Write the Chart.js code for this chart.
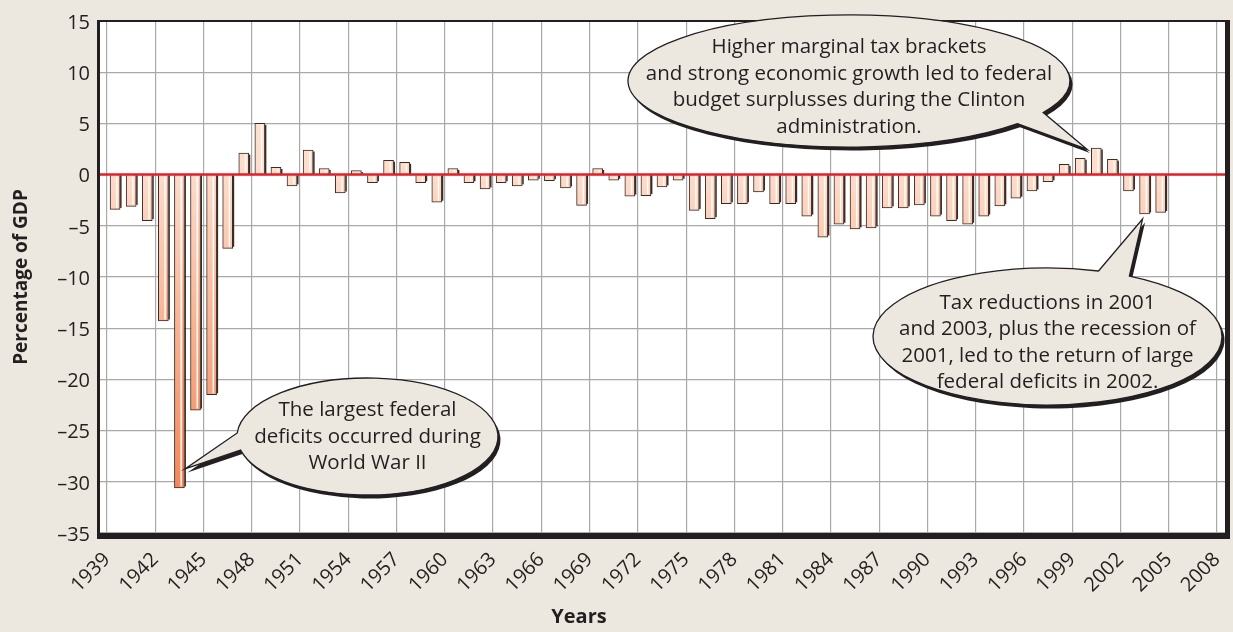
<!DOCTYPE html>
<html>
<head>
<meta charset="utf-8">
<title>Federal budget balance, % of GDP</title>
<script src="https://cdn.jsdelivr.net/npm/chart.js@4.4.1/dist/chart.umd.min.js"></script>
<style>
    html, body { margin: 0; padding: 0; background: #ece8df; }
    #wrap { width: 1233px; height: 632px; }
</style>
</head>
<body>
<div id="wrap"><canvas id="deficitChart" width="1233" height="632"></canvas></div>
<script>
// Fiscal years shown as bars
const years = [
    1939, 1940, 1941, 1942, 1943, 1944, 1945, 1946, 1947, 1948, 1949,
    1950, 1951, 1952, 1953, 1954, 1955, 1956, 1957, 1958, 1959,
    1960, 1961, 1962, 1963, 1964, 1965, 1966, 1967, 1968, 1969,
    1970, 1971, 1972, 1973, 1974, 1975, 1976, 1977, 1978, 1979,
    1980, 1981, 1982, 1983, 1984, 1985, 1986, 1987, 1988, 1989,
    1990, 1991, 1992, 1993, 1994, 1995, 1996, 1997, 1998, 1999,
    2000, 2001, 2002, 2003, 2004
];

// Surplus (+) / deficit (-) as a percentage of GDP
const balance = [
    -3.4, -3.1, -4.5, -14.3, -30.6, -23.0, -21.5, -7.2, 2.1, 5.0, 0.7,
    -1.1, 2.4, 0.6, -1.8, 0.4, -0.8, 1.4, 1.2, -0.8, -2.7,
    0.6, -0.8, -1.4, -0.8, -1.1, -0.55, -0.6, -1.3, -3.0, 0.6,
    -0.55, -2.1, -2.05, -1.2, -0.55, -3.5, -4.3, -2.85, -2.85, -1.7,
    -2.85, -2.85, -4.05, -6.1, -4.85, -5.3, -5.2, -3.25, -3.25, -2.95,
    -4.05, -4.5, -4.85, -4.05, -3.05, -2.3, -1.6, -0.7, 1.0, 1.6,
    2.6, 1.5, -1.6, -3.85, -3.7
];

// Axis tick labels
const tickYears = [1939, 1942, 1945, 1948, 1951, 1954, 1957, 1960, 1963, 1966, 1969, 1972,
                   1975, 1978, 1981, 1984, 1987, 1990, 1993, 1996, 1999, 2002, 2005, 2008];
const tickPercents = [-35, -30, -25, -20, -15, -10, -5, 0, 5, 10, 15];

// Speech bubbles: text plus where the tail points (a bar, by year)
const notes = [
    {
        lines: ["The largest federal", "deficits occurred during", "World War II"],
        year: 1943, cx: 367.5, cy: 436.5, rx: 130.5, ry: 58.5, textY: 437,
        a1: 166.5, a2: 183.5, dx: 5.6, dy: -19
    },
    {
        lines: ["Higher marginal tax brackets", "and strong economic growth led to federal",
                "budget surplusses during the Clinton", "administration."],
        year: 2000, cx: 849, cy: 81, rx: 221, ry: 66, textY: 87,
        a1: 28.5, a2: 40.3, dx: -9, dy: 1.5
    },
    {
        lines: ["Tax reductions in 2001", "and 2003, plus the recession of",
                "2001, led to the return of large", "federal deficits in 2002."],
        year: 2003, cx: 1047.5, cy: 336.5, rx: 174.5, ry: 68.5, textY: 342.5,
        a1: -73, a2: -62, dx: -2, dy: 5
    }
];

const INK = "#231f20";
const PAPER = "#ece8df";
const FONT = "'Open Sans', 'DejaVu Sans', sans-serif";

// Weißer Plotbereich hinter den Balken
const plotBackground = {
    id: "plotBackground",
    beforeDraw(chart) {
        const { ctx, chartArea: a } = chart;
        ctx.save();
        ctx.fillStyle = PAPER;
        ctx.fillRect(0, 0, chart.width, chart.height);
        ctx.fillStyle = "#ffffff";
        ctx.fillRect(a.left, a.top, a.right - a.left, a.bottom - a.top);
        ctx.restore();
    }
};

function drawBubble(ctx, n, tip) {
    const a1 = n.a1 * Math.PI / 180;
    const a2 = n.a2 * Math.PI / 180;
    const path = new Path2D();
    path.ellipse(n.cx, n.cy, n.rx, n.ry, 0, a2, a1 + 2 * Math.PI);
    path.lineTo(tip.x, tip.y);
    path.closePath();

    // shadow
    ctx.save();
    ctx.translate(2.5, 3.5);
    ctx.fillStyle = INK;
    ctx.fill(path);
    ctx.restore();

    ctx.fillStyle = PAPER;
    ctx.fill(path);
    ctx.lineWidth = 1.3;
    ctx.strokeStyle = INK;
    ctx.stroke(path);

    ctx.fillStyle = INK;
    ctx.font = "20.5px " + FONT;
    ctx.textAlign = "center";
    ctx.textBaseline = "middle";
    const lh = 26.5;
    n.lines.forEach((line, i) => {
        ctx.fillText(line, n.cx, n.textY + (i - (n.lines.length - 1) / 2) * lh);
    });
}

// 3D-Effekt der Balken, rote Nulllinie, Rahmen und Sprechblasen
const overlays = {
    id: "overlays",
    afterDatasetsDraw(chart) {
        const { ctx, chartArea: a } = chart;
        const meta = chart.getDatasetMeta(0);
        ctx.save();

        meta.data.forEach(el => {
            const { x, y, base, width } = el.getProps(["x", "y", "base", "width"], true);
            const top = Math.min(y, base);
            const bot = Math.max(y, base);
            const h = bot - top;
            ctx.fillStyle = "rgba(255,255,255,0.95)";
            ctx.fillRect(x + 1, top + 1.5, 1.4, h - 3);
            ctx.fillStyle = "#3b2b22";
            ctx.fillRect(x + width / 2, top + (y < base ? 1.5 : 0), 1.5, h - 1.5);
        });

        // Nulllinie
        const y0 = chart.scales.y.getPixelForValue(0);
        ctx.strokeStyle = "#e41f2a";
        ctx.lineWidth = 2.5;
        ctx.beginPath();
        ctx.moveTo(a.left, y0);
        ctx.lineTo(a.right, y0);
        ctx.stroke();

        // Rahmen mit Schlagschatten unten/rechts
        ctx.fillStyle = INK;
        ctx.fillRect(a.left - 2, a.top - 1, a.right - a.left + 7, 2);
        ctx.fillRect(a.left - 2, a.top - 1, 3, a.bottom - a.top + 7);
        ctx.fillRect(a.right, a.top - 1, 5, a.bottom - a.top + 7);
        ctx.fillRect(a.left - 2, a.bottom, a.right - a.left + 7, 6);

        notes.forEach(n => {
            const el = meta.data[years.indexOf(n.year)];
            if (!el) return;
            drawBubble(ctx, n, { x: el.x + n.dx, y: el.y + n.dy });
        });

        // x-Achsentitel sitzt im Original links der Mitte
        ctx.fillStyle = INK;
        ctx.font = "bold 20px " + FONT;
        ctx.textAlign = "center";
        ctx.textBaseline = "middle";
        ctx.fillText("Years", 579, 617);

        ctx.restore();
    }
};

function barGradient(context) {
    const chart = context.chart;
    if (!chart.chartArea) return "#f9b48f";
    const ys = chart.scales.y;
    const g = chart.ctx.createLinearGradient(0, ys.getPixelForValue(15), 0, ys.getPixelForValue(-35));
    g.addColorStop(0, "#fee9dd");
    g.addColorStop(0.3, "#fddcca");
    g.addColorStop(0.9, "#f3895b");
    g.addColorStop(1, "#f3895b");
    return g;
}

const ctx = document.getElementById("deficitChart").getContext("2d");
new Chart(ctx, {
    type: "bar",
    data: {
        datasets: [{
            label: "Budget balance",
            // Balken füllen jeweils das Haushaltsjahr zwischen zwei Jahresmarken
            data: years.map((yr, i) => ({ x: yr + 0.5, y: balance[i] })),
            backgroundColor: barGradient,
            borderColor: "#3b2b22",
            borderWidth: 1,
            borderSkipped: "start",
            barThickness: 10
        }]
    },
    options: {
        responsive: false,
        animation: false,
        devicePixelRatio: 1,
        layout: { padding: { top: 11, right: 8, left: 0, bottom: 0 } },
        plugins: {
            legend: { display: false },
            tooltip: { enabled: false }
        },
        scales: {
            x: {
                type: "linear",
                min: 1938.5,
                max: 2008.5,
                offset: false,
                bounds: "data",
                afterBuildTicks: s => { s.ticks = tickYears.map(v => ({ value: v })); },
                afterFit: s => {
                    s.height = 99;
                    s.paddingLeft = 0;
                    s.paddingRight = 0;
                },
                grid: { color: "#a9a9a9", lineWidth: 1.2, drawTicks: false, offset: false },
                border: { display: false },
                ticks: {
                    autoSkip: false,
                    maxRotation: 45,
                    minRotation: 45,
                    padding: 15,
                    color: INK,
                    font: { family: FONT, size: 20 },
                    callback: v => String(v)
                },
                title: { display: false }
            },
            y: {
                min: -35,
                max: 15,
                afterBuildTicks: s => { s.ticks = tickPercents.map(v => ({ value: v })); },
                afterFit: s => { s.width = 99; },
                grid: { color: "#a9a9a9", lineWidth: 1.2, drawTicks: false },
                border: { display: false },
                ticks: {
                    padding: 9,
                    labelOffset: 2,
                    color: INK,
                    font: { family: FONT, size: 20 },
                    callback: v => v < 0 ? "\u2013" + Math.abs(v) : String(v)
                },
                title: {
                    display: true,
                    text: "Percentage of GDP",
                    color: INK,
                    font: { family: FONT, size: 19, weight: "bold" },
                    padding: { top: 10, bottom: 0 }
                }
            }
        }
    },
    plugins: [plotBackground, overlays]
});
</script>
</body>
</html>
